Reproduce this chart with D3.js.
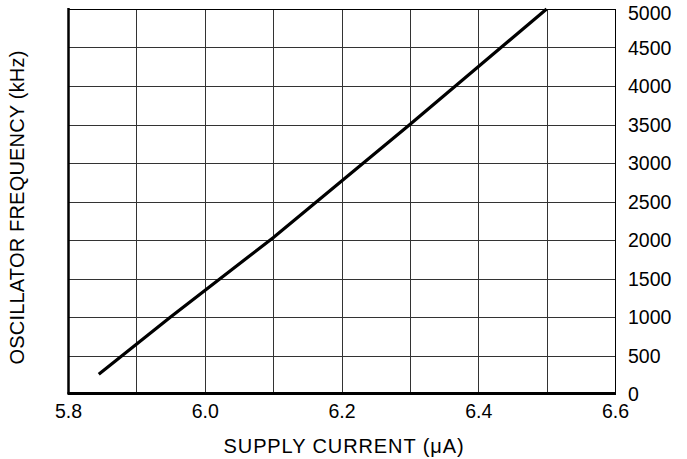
<!DOCTYPE html>
<html>
<head>
<meta charset="utf-8">
<script src="https://cdn.jsdelivr.net/npm/d3@7"></script>
<style>
  html, body { margin: 0; padding: 0; background: #fff; }
  svg text { font-family: "Liberation Sans", Arial, Helvetica, sans-serif; fill: #000; }
</style>
</head>
<body>
<div class="chart_area"></div>
<script>
// values
var supplyCurrent = [5.845, 5.95, 6.1, 6.3, 6.5];
var oscFrequency = [255, 1000, 2030, 3500, 5000];

var xTicks = [5.8, 6.0, 6.2, 6.4, 6.6];
var xGrid = [5.9, 6.0, 6.1, 6.2, 6.3, 6.4, 6.5];
var yTicks = [0, 500, 1000, 1500, 2000, 2500, 3000, 3500, 4000, 4500, 5000];

var width = 687, height = 459;
var margin = { top: 9, right: 72, bottom: 65, left: 68 },
    w = width - margin.left - margin.right,
    h = height - margin.top - margin.bottom;

var svg = d3.select(".chart_area")
    .append("svg")
    .attr("width", width)
    .attr("height", height)
    .append("g")
    .attr("transform", "translate(" + margin.left + "," + margin.top + ")");

var x = d3.scaleLinear().domain([5.8, 6.6]).range([0, w]);
var y = d3.scaleLinear().domain([0, 5000]).range([h, 0]);

// grid
svg.selectAll(".vgrid")
    .data(xGrid)
    .enter()
    .append("line")
    .attr("class", "vgrid")
    .attr("x1", function(d) { return Math.round(x(d)) + 0.5; })
    .attr("x2", function(d) { return Math.round(x(d)) + 0.5; })
    .attr("y1", 0)
    .attr("y2", h)
    .style("stroke", "#333")
    .style("stroke-width", 1);

svg.selectAll(".hgrid")
    .data(yTicks.slice(1, -1))
    .enter()
    .append("line")
    .attr("class", "hgrid")
    .attr("x1", 0)
    .attr("x2", w)
    .attr("y1", function(d) { return Math.round(y(d)) + 0.5; })
    .attr("y2", function(d) { return Math.round(y(d)) + 0.5; })
    .style("stroke", "#333")
    .style("stroke-width", 1);

// frame: thin top and right, heavy left and bottom
svg.append("line")
    .attr("x1", 0).attr("x2", w)
    .attr("y1", 0.5).attr("y2", 0.5)
    .style("stroke", "#000").style("stroke-width", 1);
svg.append("line")
    .attr("x1", w + 0.5).attr("x2", w + 0.5)
    .attr("y1", 0).attr("y2", h)
    .style("stroke", "#000").style("stroke-width", 1);
svg.append("line")
    .attr("x1", 0.5).attr("x2", 0.5)
    .attr("y1", -1).attr("y2", h)
    .style("stroke", "#000").style("stroke-width", 2.5);
svg.append("line")
    .attr("x1", -0.5).attr("x2", w + 1)
    .attr("y1", h - 0.5).attr("y2", h - 0.5)
    .style("stroke", "#000").style("stroke-width", 3);

// x axis labels
var xAxis = svg.append("g")
    .attr("class", "x_axis")
    .attr("transform", "translate(0," + h + ")")
    .call(d3.axisBottom(x).tickValues(xTicks).tickSize(0).tickPadding(0).tickFormat(d3.format(".1f")));

xAxis.select(".domain").remove();
xAxis.selectAll("text")
    .attr("y", 24)
    .attr("dy", 0)
    .style("font-size", "19.5px");

// y axis labels on the right
var yAxis = svg.append("g")
    .attr("class", "y_axis")
    .attr("transform", "translate(" + w + ",0)")
    .call(d3.axisRight(y).tickValues(yTicks).tickSize(0).tickPadding(13).tickFormat(d3.format("d")));

yAxis.select(".domain").remove();
yAxis.selectAll("text")
    .attr("dy", function(d) { return d == 5000 ? "0.55em" : "0.35em"; })
    .style("font-size", "19.5px");

// titles
svg.append("text")
    .attr("text-anchor", "middle")
    .attr("x", 276)
    .attr("y", h + 59)
    .style("font-size", "20px")
    .style("letter-spacing", "0.9px")
    .text("SUPPLY CURRENT (\u03bcA)");

svg.append("text")
    .attr("text-anchor", "middle")
    .attr("transform", "translate(-44," + (h / 2 + 6) + ")rotate(-90)")
    .style("font-size", "20px")
    .style("letter-spacing", "0.2px")
    .text("OSCILLATOR FREQUENCY (kHz)");

// curve
var pts = supplyCurrent.map(function(d, i) { return [d, oscFrequency[i]]; });

svg.append("path")
    .datum(pts)
    .attr("d", d3.line()
        .x(function(d) { return x(d[0]); })
        .y(function(d) { return y(d[1]); }))
    .style("fill", "none")
    .style("stroke", "#000")
    .style("stroke-width", 3.2);
</script>
</body>
</html>
